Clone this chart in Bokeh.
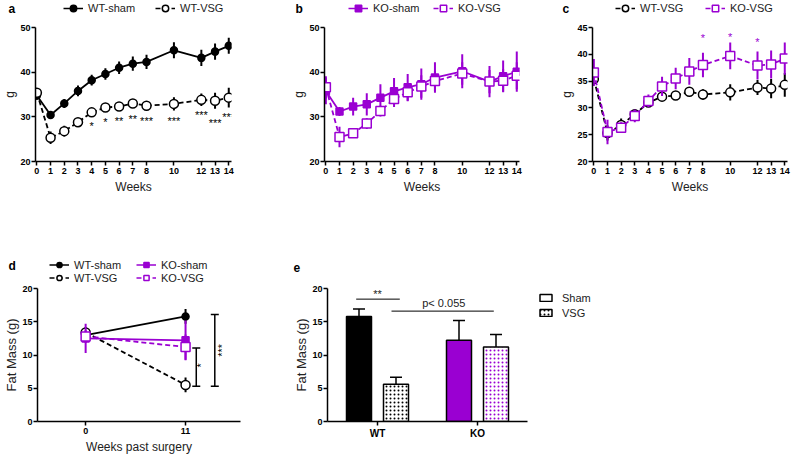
import numpy as np
from bokeh.plotting import figure
from bokeh.layouts import row, column
from bokeh.models import (ColumnDataSource, Legend, LegendItem, Label, FixedTicker,
                          Range1d, Whisker, TeeHead)
from bokeh.core.properties import value
from bokeh.embed import file_html
from bokeh.resources import INLINE

# ---------------- data ----------------
weeks = [0, 1, 2, 3, 4, 5, 6, 7, 8, 10, 12, 13, 14]
wt_sham = [34.8, 30.4, 33.0, 35.8, 38.2, 39.6, 41.0, 41.9, 42.3, 44.9, 43.2, 44.6, 45.9]
wt_sham_sem = [1.0, 0.8, 1.0, 1.2, 1.2, 1.3, 1.4, 1.6, 1.6, 1.8, 1.8, 1.8, 1.8]
wt_vsg = [35.4, 25.3, 26.8, 28.8, 31.0, 32.1, 32.3, 33.0, 32.5, 32.9, 33.8, 33.6, 34.3]
wt_vsg_sem = [1.0, 1.4, 1.2, 0.9, 0.8, 0.7, 0.8, 0.6, 1.0, 1.5, 1.4, 1.8, 2.2]
ko_sham = [35.8, 31.2, 32.3, 32.8, 34.3, 35.7, 36.6, 37.3, 38.8, 40.2, 37.9, 39.1, 40.1]
ko_sham_sem = [3.0, 1.0, 2.0, 2.5, 3.0, 3.0, 3.0, 3.5, 3.4, 3.8, 3.5, 3.5, 4.5]
ko_vsg = [36.6, 25.5, 26.3, 28.5, 31.3, 34.0, 35.5, 36.8, 38.0, 39.7, 37.9, 38.1, 39.2]
ko_vsg_sem = [2.5, 2.3, 1.0, 1.2, 1.2, 1.8, 2.0, 2.5, 2.3, 2.5, 2.6, 2.6, 3.0]

stars_a_weeks = [4, 5, 6, 7, 8, 10, 12, 13, 14]
stars_a_y = [28.0, 28.9, 29.0, 29.5, 29.0, 29.0, 30.3, 28.7, 29.9]
stars_a_text = ["*", "*", "**", "**", "***", "***", "***", "***", "***"]
stars_c_weeks = [8, 10, 12]
stars_c_y = [43.0, 43.3, 42.3]
stars_c_text = ["*", "*", "*"]

fm_weeks = [0, 11]
fm_wt_sham = [13.0, 15.8]
fm_wt_sham_sem = [0.8, 1.1]
fm_wt_vsg = [13.4, 5.5]
fm_wt_vsg_sem = [0.8, 1.1]
fm_ko_sham = [12.5, 12.2]
fm_ko_sham_sem = [2.2, 3.0]
fm_ko_vsg = [12.8, 11.2]
fm_ko_vsg_sem = [1.0, 1.9]
fm_br_x = [12.18, 14.22]
fm_br_lo = [5.3, 5.3]
fm_br_hi = [11.05, 16.1]
fm_br_text = ["*", "***"]
fm_br_text_x = [12.73, 14.96]
fm_br_text_y = [8.45, 10.7]

fat_groups = ["WT", "KO"]
fat_sham = [15.8, 12.2]
fat_sham_sem = [1.1, 3.0]
fat_vsg = [5.6, 11.2]
fat_vsg_sem = [1.05, 1.9]
sig_x0 = [0.787, 1.14]
sig_x1 = [1.223, 2.163]
sig_y = [18.4, 16.6]
sig_text = ["**", "p< 0.055"]
sig_text_x = [1.0, 1.663]
sig_text_y = [19.1, 17.8]

yticks_ab = [20, 30, 40, 50]
yticks_c = [20, 25, 30, 35, 40, 45]
yticks_de = [0, 5, 10, 15, 20]

# ---------------- style ----------------
FONT = "Liberation Sans"
BLACK = "#000000"
PURPLE = "#9A00D2"
TXT = "#222222"
DASH = "5 3"
NAN = float("nan")

STYLE = {
    "WT-sham": (BLACK, "circle", True, "solid"),
    "WT-VSG": (BLACK, "circle", False, DASH),
    "KO-sham": (PURPLE, "square", True, "solid"),
    "KO-VSG": (PURPLE, "square", False, DASH),
}
HATCH = dict(hatch_pattern="dot", hatch_scale=4, hatch_weight=2.5)


def base_fig(width, height, left, right, top, bottom, xr, yr, xlabel, ylabel, xticks, yticks):
    p = figure(width=width, height=height, x_range=xr, y_range=yr,
               output_backend="svg", toolbar_location=None,
               min_border_left=left, min_border_right=right,
               min_border_top=top, min_border_bottom=bottom)
    p.grid.visible = False
    p.outline_line_color = None
    p.background_fill_color = "white"
    p.border_fill_color = "white"
    for ax in [p.xaxis[0], p.yaxis[0]]:
        ax.axis_line_color = "black"
        ax.axis_line_width = 1.5
        ax.major_tick_line_color = "black"
        ax.major_tick_line_width = 1.5
        ax.major_tick_in = 0
        ax.major_tick_out = 4
        ax.minor_tick_line_color = None
        ax.major_label_text_font = FONT
        ax.major_label_text_font_style = "bold"
        ax.major_label_text_font_size = "9px"
        ax.major_label_text_color = "black"
        ax.axis_label_text_font = FONT
        ax.axis_label_text_font_style = "normal"
        ax.axis_label_text_font_size = "12px"
        ax.axis_label_text_color = TXT
    p.xaxis[0].major_label_standoff = 2
    p.xaxis[0].axis_label_standoff = 3
    p.yaxis[0].major_label_standoff = 1
    p.yaxis[0].axis_label_standoff = 0
    p.xaxis[0].axis_label = xlabel
    p.yaxis[0].axis_label = ylabel
    p.xaxis[0].ticker = FixedTicker(ticks=list(xticks))
    p.yaxis[0].ticker = FixedTicker(ticks=list(yticks))
    return p


def header_fig(width, height):
    h = figure(width=width, height=height, x_range=Range1d(0, width), y_range=Range1d(0, height),
               output_backend="svg", toolbar_location=None, x_axis_type=None, y_axis_type=None,
               min_border=0, min_border_left=0, min_border_right=0, min_border_top=0,
               min_border_bottom=0)
    h.grid.visible = False
    h.outline_line_color = None
    h.background_fill_color = "white"
    h.border_fill_color = "white"
    return h


def add_series(p, x, y, sem, name, size_filled=7, size_open=9):
    color, marker, filled, dash = STYLE[name]
    y = np.asarray(y, float)
    sem = np.asarray(sem, float)
    src = ColumnDataSource(dict(x=list(x), y=y, lo=y - sem, hi=y + sem))
    p.segment(x0="x", y0="lo", x1="x", y1="hi", source=src, line_color=color, line_width=2)
    p.line("x", "y", source=src, line_color=color, line_width=1.8, line_dash=dash)
    p.scatter("x", "y", source=src, marker=marker, size=size_filled if filled else size_open,
              fill_color=color if filled else "white", line_color=color, line_width=1.5)


def proxy(h, name):
    # legend key only: NaN data, nothing is drawn in the plot area
    color, marker, filled, dash = STYLE[name]
    ln = h.line(x=[NAN, NAN], y=[NAN, NAN], line_color=color, line_width=1.5, line_dash=dash)
    sc = h.scatter(x=[NAN], y=[NAN], marker=marker, size=7, fill_color=color if filled else "white",
                   line_color=color, line_width=1.5)
    return [ln, sc]


def add_legend(p, items, vx, vy, label_width, orientation="horizontal", ncols=None,
               glyph_width=20, glyph_height=16, label_height=16, spacing=0, standoff=5):
    kw = {}
    if ncols is not None:
        kw["ncols"] = ncols
    lg = Legend(items=[LegendItem(label=l, renderers=r) for l, r in items],
                location=(vx, vy), orientation=orientation,
                glyph_width=glyph_width, glyph_height=glyph_height,
                label_height=label_height, label_width=label_width,
                label_standoff=standoff, spacing=spacing, padding=0, margin=0,
                border_line_color=None, background_fill_alpha=0,
                label_text_font=FONT, label_text_font_size="11px", label_text_color=TXT, **kw)
    p.add_layout(lg)


def add_letter(h, letter, x, y):
    h.add_layout(Label(x=x, y=y, x_units="screen", y_units="screen", text=letter,
                       text_font=FONT, text_font_style="bold", text_font_size="12px",
                       text_color=BLACK, text_baseline="middle", text_align="left"))


def add_stars(p, xs, ys, texts, color, angle=0.0):
    p.text(x=list(xs), y=list(ys), text=list(texts), angle=angle,
           text_font=value(FONT), text_font_size="11px", text_color=color,
           text_align="center", text_baseline="middle")


XR = (-0.1, 14.2)

# ---------------- header row 1 (letters + legends) ----------------
h1 = header_fig(800, 20)
add_letter(h1, "a", 8, 12)
add_letter(h1, "b", 295, 12)
add_letter(h1, "c", 562, 12)
add_legend(h1, [(n, proxy(h1, n)) for n in ["WT-sham", "WT-VSG"]], 63, 4, 67)
add_legend(h1, [(n, proxy(h1, n)) for n in ["KO-sham", "KO-VSG"]], 348, 4, 60)
add_legend(h1, [(n, proxy(h1, n)) for n in ["WT-VSG", "KO-VSG"]], 615, 4, 65)

# ---------------- panel a ----------------
pa = base_fig(270, 190, 35, 39, 7, 49, Range1d(*XR), Range1d(20, 50), "Weeks", "g", weeks, yticks_ab)
add_series(pa, weeks, wt_sham, wt_sham_sem, "WT-sham")
add_series(pa, weeks, wt_vsg, wt_vsg_sem, "WT-VSG")
add_stars(pa, stars_a_weeks, stars_a_y, stars_a_text, BLACK)

# ---------------- panel b ----------------
pb = base_fig(282, 190, 54, 33, 7, 49, Range1d(*XR), Range1d(20, 50), "Weeks", "g", weeks, yticks_ab)
add_series(pb, weeks, ko_sham, ko_sham_sem, "KO-sham")
add_series(pb, weeks, ko_vsg, ko_vsg_sem, "KO-VSG")

# ---------------- panel c ----------------
pc = base_fig(248, 190, 40, 13, 7, 49, Range1d(*XR), Range1d(20, 45), "Weeks", "g", weeks, yticks_c)
add_series(pc, weeks, wt_vsg, wt_vsg_sem, "WT-VSG")
add_series(pc, weeks, ko_vsg, ko_vsg_sem, "KO-VSG")
add_stars(pc, stars_c_weeks, stars_c_y, stars_c_text, PURPLE)

# ---------------- header row 2 ----------------
h2 = header_fig(800, 74)
add_letter(h2, "d", 8, 19)
add_letter(h2, "e", 293, 17)
add_legend(h2, [(n, proxy(h2, n)) for n in ["WT-sham", "KO-sham", "WT-VSG", "KO-VSG"]],
           49, 0, 62, ncols=2, glyph_height=13, label_height=13)

# ---------------- panel d ----------------
pd_ = base_fig(280, 177, 37, 40, 4, 40, Range1d(-5.3, 17.05), Range1d(0, 20),
               "Weeks past surgery", "Fat Mass (g)", fm_weeks, yticks_de)
pd_.yaxis[0].axis_label_text_font_size = "13px"
add_series(pd_, fm_weeks, fm_wt_sham, fm_wt_sham_sem, "WT-sham")
add_series(pd_, fm_weeks, fm_wt_vsg, fm_wt_vsg_sem, "WT-VSG")
add_series(pd_, fm_weeks, fm_ko_sham, fm_ko_sham_sem, "KO-sham")
add_series(pd_, fm_weeks, fm_ko_vsg, fm_ko_vsg_sem, "KO-VSG")
wsrc = ColumnDataSource(dict(base=fm_br_x, lower=fm_br_lo, upper=fm_br_hi))
pd_.add_layout(Whisker(base="base", lower="lower", upper="upper", source=wsrc, dimension="height",
                       line_color="black", line_width=1.5,
                       upper_head=TeeHead(size=8, line_color="black", line_width=1.5),
                       lower_head=TeeHead(size=8, line_color="black", line_width=1.5)))
add_stars(pd_, fm_br_text_x, fm_br_text_y, fm_br_text, BLACK, angle=np.pi / 2)

# ---------------- panel e ----------------
gx = [i + 1 for i in range(len(fat_groups))]
pe = base_fig(520, 177, 47, 0, 4, 40, Range1d(0.5, 5.23), Range1d(0, 20),
              "", "Fat Mass (g)", gx, yticks_de)
pe.yaxis[0].axis_label_text_font_size = "13px"
pe.xaxis[0].bounds = (0.5, len(fat_groups) + 0.5)
pe.xaxis[0].major_label_overrides = {g: name for g, name in zip(gx, fat_groups)}
pe.xaxis[0].major_label_text_font_size = "10px"

OFF = 0.185
BW = 0.25
sham_x = [g - OFF for g in gx]
vsg_x = [g + OFF for g in gx]
bar_colors = [BLACK, PURPLE]

pe.vbar(x=sham_x, top=fat_sham, width=BW, fill_color=bar_colors, line_color="black", line_width=1.5)
for i in range(len(fat_groups)):
    pe.vbar(x=[vsg_x[i]], top=[fat_vsg[i]], width=BW, fill_color="white",
            hatch_color=bar_colors[i], line_color="black", line_width=1.5, **HATCH)

for xs, tops, errs in [(sham_x, fat_sham, fat_sham_sem), (vsg_x, fat_vsg, fat_vsg_sem)]:
    src = ColumnDataSource(dict(base=xs, lower=list(tops), upper=list(np.add(tops, errs))))
    pe.add_layout(Whisker(base="base", lower="lower", upper="upper", source=src,
                          dimension="height", line_color="black", line_width=1.5,
                          upper_head=TeeHead(size=12, line_color="black", line_width=1.5),
                          lower_head=None))

pe.segment(x0=sig_x0, y0=sig_y, x1=sig_x1, y1=sig_y, line_color="black", line_width=1)
pe.text(x=sig_text_x, y=sig_text_y, text=sig_text, text_font=value(FONT),
        text_font_size="11px", text_color=TXT, text_align="center", text_baseline="middle")

# legend keys (NaN bars, nothing drawn in the plot area)
leg_sham = pe.vbar(x=[NAN], top=[NAN], width=BW, fill_color="white", line_color="black",
                   line_width=1.5)
leg_vsg = pe.vbar(x=[NAN], top=[NAN], width=BW, fill_color="white", hatch_color=BLACK,
                  line_color="black", line_width=1.5, **HATCH)
add_legend(pe, [("Sham", [leg_sham]), ("VSG", [leg_vsg])], 211, 102, 30,
           orientation="vertical", glyph_width=15, glyph_height=9, label_height=13,
           spacing=2, standoff=9)

layout = column(h1, row(pa, pb, pc), h2, row(pd_, pe))
open("out.html", "w").write(file_html(layout, INLINE))
